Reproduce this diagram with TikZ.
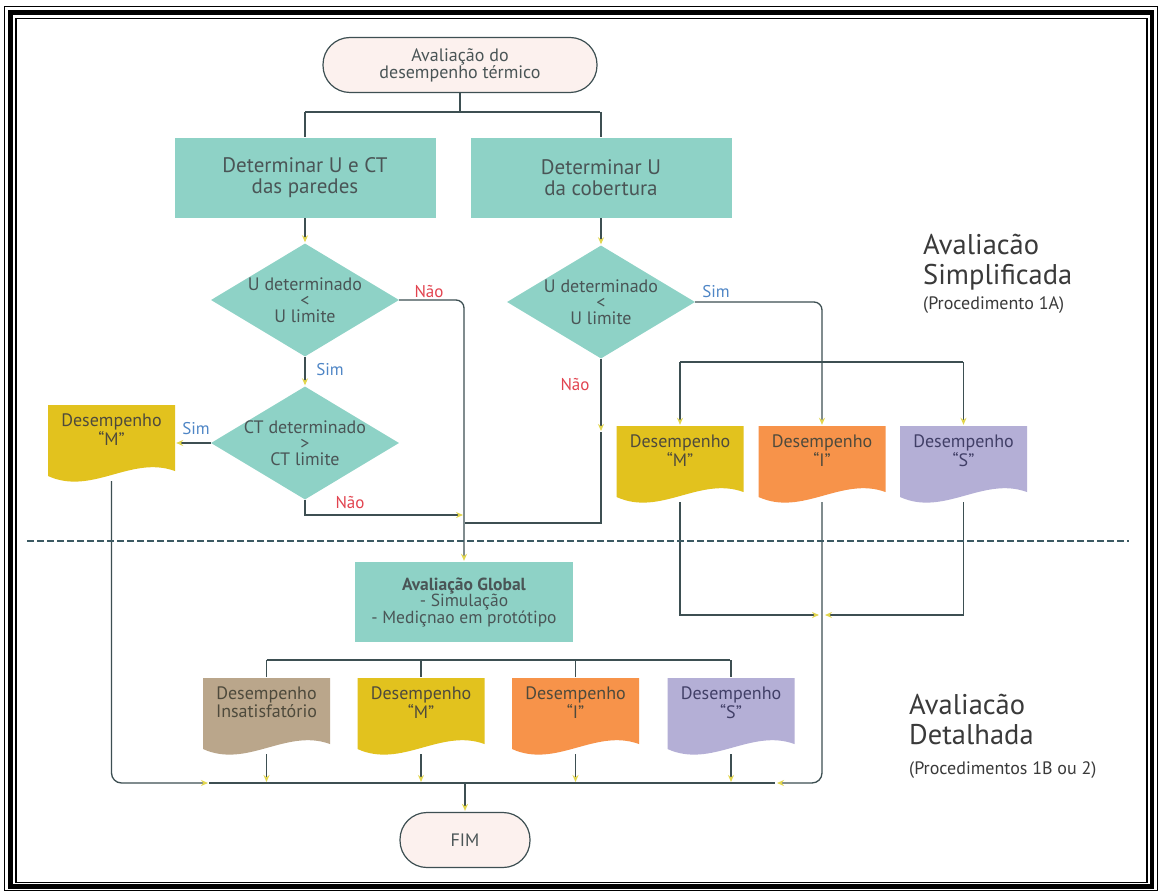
\documentclass[tikz,border=0pt]{standalone}
\usepackage{fontspec}
\setmainfont{PT Sans}
\usetikzlibrary{arrows.meta,shapes.geometric,calc,backgrounds,positioning}

\definecolor{tealbox}{HTML}{8ED2C6}
\definecolor{linec}{HTML}{3D4F52}
\definecolor{termfill}{HTML}{FCF1EE}
\definecolor{txtc}{HTML}{4A5556}
\definecolor{ymust}{HTML}{E2C21E}
\definecolor{orng}{HTML}{F7934A}
\definecolor{lav}{HTML}{B4AFD6}
\definecolor{tan}{HTML}{BAA68B}
\definecolor{tipyel}{HTML}{E2D64E}
\definecolor{simblue}{HTML}{4F86C6}
\definecolor{naored}{HTML}{E2434F}
\definecolor{dashc}{HTML}{3C5A63}
\definecolor{doctext}{HTML}{4E4A3C}
\definecolor{bigtext}{HTML}{3A3A3A}

\newcommand{\fsz}[2]{\fontsize{#1}{#2}\selectfont}

\tikzset{
  term/.style={draw=linec, line width=1.2pt, fill=termfill, rounded corners=27pt,
    minimum width=274pt, minimum height=55pt, align=center, text=txtc, font=\fsz{18}{17}},
  tbox/.style={fill=tealbox, minimum width=261pt, minimum height=80pt, align=center,
    text=txtc, font=\fsz{21}{21}},
  dia/.style={diamond, fill=tealbox, minimum width=188pt, minimum height=113pt, inner sep=0pt},
  dtxt/.style={align=center, text=txtc, font=\fsz{18}{16}, inner sep=0pt},
  docu/.style={minimum width=127pt, minimum height=76pt, inner sep=0pt,
    path picture={
      \fill[#1] (path picture bounding box.north west)
        -- (path picture bounding box.north east)
        -- ($(path picture bounding box.south east)+(0,-10)$)
        .. controls ($(path picture bounding box.south east)+(-44,-26)$)
        and ($(path picture bounding box.south west)+(44,15)$) ..
        ($(path picture bounding box.south west)+(0,-5)$) -- cycle;
    }},
  doctxt/.style={anchor=north, yshift=-9pt, align=center, inner sep=0pt,
    text=doctext, font=\fsz{18}{15}},
  conn/.style={draw=linec, line width=1.3pt},
  sim/.style={text=simblue, font=\fsz{17}{17}, inner sep=0pt},
  nao/.style={text=naored, font=\fsz{17}{17}, inner sep=0pt},
  big/.style={anchor=north west, align=left, inner sep=0pt, text=bigtext, font=\fsz{28.5}{30}},
  sub/.style={anchor=north west, inner sep=0pt, text=bigtext, font=\fsz{18}{18}},
}

\begin{document}
\begin{tikzpicture}[x=1pt, y=-1pt, >={Stealth[length=7pt,width=6pt,color=tipyel]}, shorten >=1pt]
  \useasboundingbox (0,0) rectangle (1161,893);

  % frame
  \draw[line width=1.5pt] (4.5,6.5) rectangle (1157.5,890.5);
  \draw[line width=4.5pt] (10.5,12.5) rectangle (1152,886.5);
  \draw[line width=1.5pt] (16,18.5) rectangle (1147,882.5);

  % simplified part
  \node[term] (st) at (460,65) {Avaliação do\\desempenho térmico};
  \node[tbox] (pW) at (305,178) {Determinar U e CT\\das paredes};
  \node[tbox] (pR) at (601,178) {Determinar U\\da cobertura};

  \node[dia, label={[dtxt]center:{U determinado\\<\\U limite}}] (d1) at (305,300) {};
  \node[dia, label={[dtxt]center:{CT determinado\\>\\CT limite}}] (d2) at (305,443) {};
  \node[dia, label={[dtxt]center:{U determinado\\<\\U limite}}] (d3) at (601,302) {};

  \node[docu=ymust, label={[doctxt]north:{Desempenho\\``M''}}] (lM) at (111.5,443) {};
  \node[docu=ymust, label={[doctxt]north:{Desempenho\\``M''}}] (rM) at (680,464) {};
  \node[docu=orng, label={[doctxt]north:{Desempenho\\``I''}}] (rT) at (822,464) {};
  \node[docu=lav, label={[doctxt, text=black!60!lav!90!blue]north:{Desempenho\\``S''}}] (rS) at (963.5,464) {};

  \node[nao] (n1) at (429,292) {Não};
  \node[sim] (s1) at (330,370) {Sim};
  \node[sim] (s2) at (196,429) {Sim};
  \node[nao] (n2) at (350,503) {Não};
  \node[sim] (s3) at (716,292) {Sim};
  \node[nao] (n3) at (575,385) {Não};

  \node[big] (sA) at (923,234) {Avaliacão\\Simplificada};
  \node[sub] (sA1) at (923,296) {(Procedimento 1A)};

  \draw[dashc, line width=1.3pt, dash pattern=on 7pt off 3pt] (27,541) -- (1130,541);

  % detailed part
  \node[tbox, minimum width=218pt, font=\fsz{17.5}{16.5}] (gl) at (464,602)
    {\textbf{Avaliação Global}\\- Simulação\\- Mediçnao em protótipo};

  \node[docu=tan, label={[doctxt]north:{Desempenho\\Insatisfatório}}] (bI) at (266.5,716) {};
  \node[docu=ymust, label={[doctxt]north:{Desempenho\\``M''}}] (bM) at (421,716) {};
  \node[docu=orng, label={[doctxt]north:{Desempenho\\``I''}}] (bT) at (575.5,716) {};
  \node[docu=lav, label={[doctxt, text=black!60!lav!90!blue]north:{Desempenho\\``S''}}] (bS) at (731,716) {};

  \node[term, minimum width=130pt] (fim) at (465,840) {FIM};

  \node[big] (dA) at (909,694) {Avaliacão\\Detalhada};
  \node[sub] (dA1) at (909,761) {(Procedimentos 1B ou 2)};

  \coordinate (sY) at (0,112);
  \coordinate (brY) at (0,362);
  \coordinate (bY) at (0,660);
  \coordinate (eY) at (0,783);
  \coordinate (jA) at (464,515);
  \coordinate (jB) at (464,523);
  \coordinate (mA) at (601,432);
  \coordinate (jC) at (822,615);
  \coordinate (eL) at (209,783);
  \coordinate (eR) at (776,783);

  \begin{scope}[on background layer]
    \fill[white] (0,0) rectangle (1161,893);

    \draw[conn] (st.south) -- (st.south |- sY);
    \draw[conn] (pW.north |- sY) -- (pR.north |- sY);
    \draw[conn] (pW.north |- sY) -- (pW.north);
    \draw[conn] (pR.north |- sY) -- (pR.north);

    \path[conn,->] (pW) edge (d1);
    \path[conn,->] (pR) edge (d3);
    \path[conn,->] (d1) edge (d2);
    \path[conn,->] (d2) edge (lM);

    \draw[conn,->,rounded corners=8pt] (d1.east) -| (gl.north);
    \draw[conn,->] (d2.south) |- (jA);
    \draw[conn,->] (d3.south) -- (mA);
    \draw[conn] (mA) |- (jB);
    \draw[conn,->,rounded corners=8pt] (d3.east) -| (rT.north);

    \draw[conn] (rM.north |- brY) -- (rS.north |- brY);
    \draw[conn,->] (rM.north |- brY) -- (rM.north);
    \draw[conn,->] (rS.north |- brY) -- (rS.north);

    \draw[conn,->,shorten >=3pt] (rM) |- (jC);
    \draw[conn,->,shorten >=3pt] (rS) |- (jC);
    \draw[conn,->,rounded corners=10pt] (rT) |- (eR);
    \draw[conn,->,rounded corners=10pt] (lM) |- (eL);
    \draw[conn] (eL) -- (eR);

    \draw[conn] (bI.north |- bY) -- (bS.north |- bY);
    \draw[conn] (bI.north |- bY) -- (bI.north);
    \draw[conn] (bM.north |- bY) -- (bM.north);
    \draw[conn] (bT.north |- bY) -- (bT.north);
    \draw[conn] (bS.north |- bY) -- (bS.north);

    \draw[conn,->] (bI) -- (bI |- eY);
    \draw[conn,->] (bM) -- (bM |- eY);
    \draw[conn,->] (bT) -- (bT |- eY);
    \draw[conn,->] (bS) -- (bS |- eY);

    \draw[conn,->] (fim.north |- eY) -- (fim.north);
  \end{scope}
\end{tikzpicture}
\end{document}
